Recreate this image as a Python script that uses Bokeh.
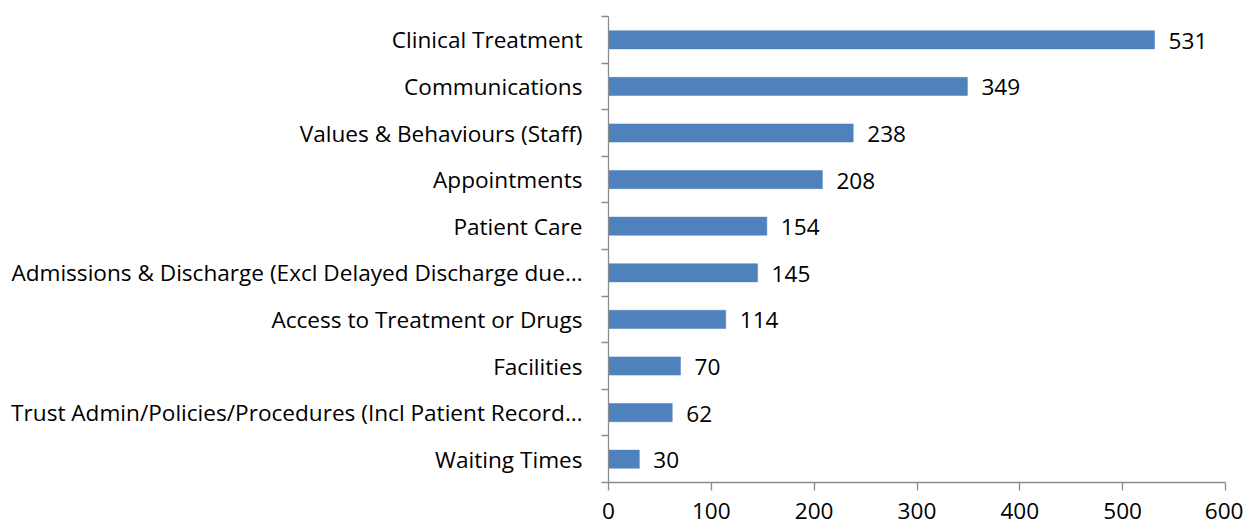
from bokeh.plotting import figure
from bokeh.models import Range1d, FixedTicker, ColumnDataSource
from bokeh.embed import file_html
from bokeh.resources import INLINE
from bokeh.core.properties import value

# Data (top to bottom as shown)
categories = [
    "Clinical Treatment",
    "Communications",
    "Values & Behaviours (Staff)",
    "Appointments",
    "Patient Care",
    "Admissions & Discharge (Excl Delayed Discharge due…",
    "Access to Treatment or Drugs",
    "Facilities",
    "Trust Admin/Policies/Procedures (Incl Patient Record…",
    "Waiting Times",
]
counts = [531, 349, 238, 208, 154, 145, 114, 70, 62, 30]
x_ticks = [0, 100, 200, 300, 400, 500, 600]

n = len(categories)
ypos = [n - 1 - i for i in range(n)]  # top category at highest position

FONT = "Open Sans"
FS = "22.6px"
AXIS_COLOR = "#8c8c8c"

src = ColumnDataSource(dict(y=ypos, v=counts, label=[str(c) for c in counts], cat=categories))

p = figure(
    width=1243, height=527,
    x_range=Range1d(0, 600), y_range=Range1d(-0.5, n - 0.5),
    output_backend="svg", toolbar_location=None,
    min_border_left=608, min_border_right=18, min_border_top=16, min_border_bottom=45,
)
p.outline_line_color = None
p.xgrid.visible = False
p.ygrid.visible = False
p.background_fill_color = "white"
p.border_fill_color = "white"

p.hbar(y="y", right="v", left=0, height=0.39, source=src,
       fill_color="#4f81bd", line_color="#4f81bd", line_width=0.5)

p.text(x="v", y="y", text="label", source=src, x_offset=14, y_offset=1,
       text_font=value(FONT), text_font_size=FS, text_color="black",
       text_baseline="middle", text_align="left")

# x axis
xa = p.xaxis[0]
xa.ticker = FixedTicker(ticks=x_ticks)
xa.axis_line_color = AXIS_COLOR
xa.axis_line_width = 1.3
xa.major_tick_line_color = AXIS_COLOR
xa.major_tick_line_width = 1.3
xa.major_tick_out = 8
xa.major_tick_in = 0
xa.minor_tick_line_color = None
xa.major_label_text_font = FONT
xa.major_label_text_font_size = FS
xa.major_label_text_color = "black"
xa.major_label_standoff = 12

# y axis: labels at bar centres, ticks at category boundaries
ya = p.yaxis[0]
ya.ticker = FixedTicker(ticks=ypos, minor_ticks=[k - 0.5 for k in range(n + 1)])
ya.major_label_overrides = {y: c for y, c in zip(ypos, categories)}
ya.axis_line_color = AXIS_COLOR
ya.axis_line_width = 1.3
ya.major_tick_line_color = None
ya.major_tick_out = 0
ya.major_tick_in = 0
ya.minor_tick_line_color = AXIS_COLOR
ya.minor_tick_line_width = 1.3
ya.minor_tick_out = 7
ya.minor_tick_in = 0
ya.major_label_text_font = FONT
ya.major_label_text_font_size = FS
ya.major_label_text_color = "black"
ya.major_label_standoff = 19

open("out.html", "w").write(file_html(p, INLINE))
